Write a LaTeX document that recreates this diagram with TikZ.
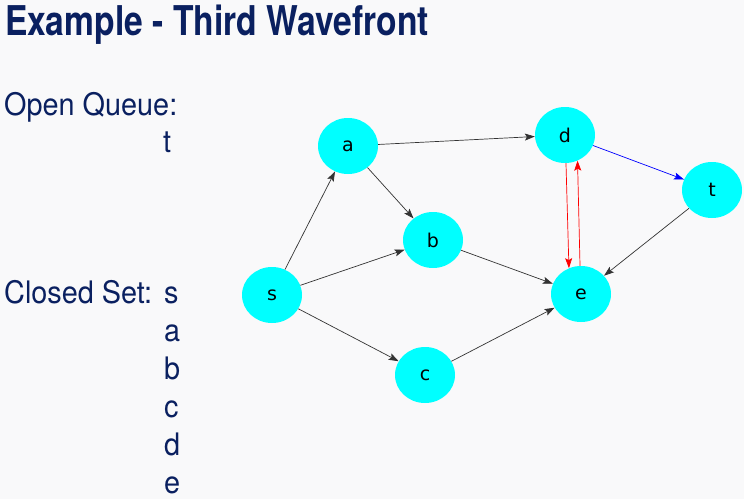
\documentclass[tikz,border=0pt]{standalone}
\usepackage{fontspec}
\setmainfont[FakeStretch=0.93]{TeX Gyre Heros}
\newfontfamily\titlefont[FakeStretch=0.82]{TeX Gyre Heros}
\newfontfamily\labelfont{DejaVu Sans}
\usetikzlibrary{shapes.geometric,arrows.meta}
\definecolor{slideblue}{RGB}{10,32,96}
\definecolor{slidebg}{RGB}{249,249,250}
\definecolor{vertexcyan}{RGB}{0,255,255}
\begin{document}
\begin{tikzpicture}[x=1pt,y=-1pt,
    vertex/.style={ellipse,fill=vertexcyan,minimum width=60pt,minimum height=56pt,
      inner sep=0pt,font=\labelfont\fontsize{19}{19}\selectfont},
    edge/.style={-{Stealth[length=10pt,width=7pt,inset=2pt]},line width=0.7pt,draw=black!80},
    slidetext/.style={anchor=base west,inner sep=0pt,text=slideblue,
      font=\fontsize{31}{31}\selectfont}]
  \fill[slidebg] (0,0) rectangle (744,499);
  \node[anchor=base west,inner sep=0pt,text=slideblue,
    font=\titlefont\bfseries\fontsize{41}{41}\selectfont] (title) at (5,35)
    {Example - Third Wavefront};
  % queue and set
  \node[slidetext] (open) at (4,115) {Open Queue:};
  \node[slidetext] (q1) at (163,152) {t};
  \node[slidetext] (closed) at (4,303) {Closed Set:};
  \node[slidetext] (c1) at (164,303) {s};
  \node[slidetext] (c2) at (164,341) {a};
  \node[slidetext] (c3) at (164,379) {b};
  \node[slidetext] (c4) at (164,417) {c};
  \node[slidetext] (c5) at (164,455) {d};
  \node[slidetext] (c6) at (164,493) {e};
  % graph
  \begin{scope}[every node/.style={vertex}]
    \draw
      (272,295) node (s){s}
      (348,146) node (a){a}
      (433,240) node (b){b}
      (425,375) node (c){c}
      (565,135) node (d){d}
      (581,294) node (e){e}
      (712,190) node (t){t};
  \end{scope}
  \begin{scope}[edge]
    \draw (s) to (a);
    \draw (s) to (b);
    \draw (s) to (c);
    \draw (a) to (b);
    \draw (a) to (d);
    \draw (b) to (e);
    \draw (c) to (e);
    \draw (t) to (e);
    \draw[blue] (d) to (t);
    \draw[red] (d.-88) to (e.115);
    \draw[red] (e.92) to (d.-64);
  \end{scope}
\end{tikzpicture}
\end{document}
